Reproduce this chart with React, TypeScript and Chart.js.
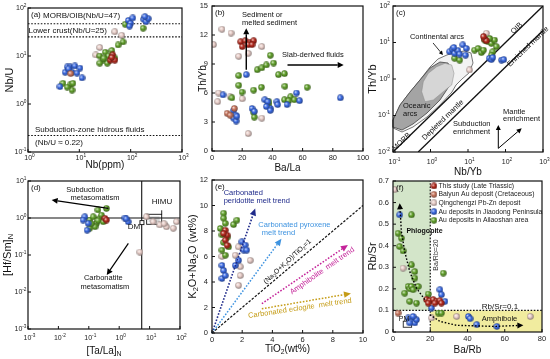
import React, { useEffect, useRef } from "react";
import { Chart, registerables } from "chart.js";
Chart.register(...registerables);

const FONT = '"Liberation Sans", Arimo, Arial, sans-serif';

// ---------- series meta ----------
const SERIES_KEYS = ["thisStudy", "baiyun", "qing", "jiao", "ailao"];
const SERIES_LABELS = [
  "This study (Late Triassic)",
  "Baiyun Au deposit (Cretaceous)",
  "Qingchengzi Pb-Zn deposit",
  "Au deposits in Jiaodong Peninsula",
  "Au deposits in Ailaoshan area",
];
const SERIES_COLORS = ["#b32a1e", "#c9765e", "#e8cdc8", "#3b6ae2", "#62a22c"];
const SERIES_ORDER = [0, 1, 4, 2, 3];

// ---------- (a) Nb vs Nb/U ----------
const aThis = [[45, 10.5], [40, 8.2], [49, 8.2], [43, 9.3]];
const aBaiyun = [[6.8, 4.3]];
const aQing = [[49, 32], [25, 15], [21, 10.5], [67, 27]];
const aJiao = [[90, 55], [100, 48], [110, 62], [180, 58], [200, 52], [220, 60], [190, 66], [95, 42], [5.8, 5.9], [6.6, 5.9], [8.2, 6.2], [10.3, 5.6], [7.2, 4.6], [5.3, 4.6], [9, 4.4], [11.3, 3.5], [4.2, 2.3], [6.2, 5.4]];
const aAilao = [[175, 38], [78, 46], [71, 19.6], [57, 17], [43, 13], [32, 12], [25, 10], [29, 8.2], [35, 7.1], [40, 9.1], [49, 9.1], [25, 7.1], [37, 10], [30, 9], [4.8, 2.7], [6.6, 2.5], [7.2, 1.95], [5.8, 2.25], [7.5, 2.7]];
const aRefLevels = [47, 25, 0.22];
const aLogTicksX = [1, 10, 100, 1000];
const aLogTicksY = [0.1, 1, 10, 100];

// ---------- (b) Ba/La vs Th/Yb ----------
const bThis = [[19, 11.3], [22, 11.4], [25, 11.2], [27.6, 11.4], [20, 10.8], [24, 11], [26.5, 11]];
const bBaiyun = [[10, 3.9], [12, 3.7], [14.8, 4.4]];
const bQing = [[1, 11], [6.6, 12.6], [12.6, 12.2], [33, 10.8], [17.7, 9.8], [24, 10.1], [4.4, 6], [20, 5.4], [12, 5.6], [33, 3.4], [24, 1.8], [3.8, 5.1]];
const bJiao = [[22.7, 7.9], [7.3, 5.8], [14.3, 4.2], [15.8, 3.7], [14.3, 3.4], [16, 3.1], [16.5, 3.6], [26.5, 4.4], [28, 4.1], [35, 5.3], [37, 5.1], [38.6, 4.4], [36, 4.6], [43, 5.1], [43.5, 4.8], [49.7, 4.8], [56, 6], [58, 5.2], [85, 5.5], [38.6, 4.2]];
const bAilao = [[17.7, 7.8], [17.7, 6.8], [19.9, 6.1], [13.2, 5.5], [27.6, 6.3], [32.7, 6.6], [27.6, 4], [28, 3.5], [30, 8.4], [33, 8.6], [36, 8.9], [38.6, 9.9], [40.8, 9.1], [44, 7.9], [48, 8], [48.3, 6.7], [48, 5.3], [52, 5.6], [54.5, 5.3], [50.8, 5.2], [63, 6.6], [37.6, 4.8], [37.7, 5.1]];
const bTicksX = [0, 20, 40, 60, 80, 100];
const bTicksY = [0, 3, 6, 9, 12, 15];

// ---------- (c) Nb/Yb vs Th/Yb ----------
const cThis = [[28, 12.2], [31, 11.2], [26, 14.5]];
const cQing = [[11, 1.77], [31, 17.9]];
const cJiao = [[3.24, 5.6], [3.8, 6.5], [4.4, 5.05], [5.4, 6], [6, 4.8], [4.2, 7.3], [7.3, 8.6], [8.6, 4.5], [9, 6.9], [37, 3.7], [42, 3.4], [46, 3.9], [78, 3.3], [90, 3.4]];
const cAilao = [[15, 6.2], [18.5, 6.9], [22.7, 5.3], [26, 6.2], [34, 10.5], [42, 9.5], [51, 11.7], [57, 7.7], [46, 5.6], [42, 4.5], [28, 11.7], [38, 12.9], [4.4, 3.7], [6, 3.3]];
const cUpperArray = [[0.1, 0.01], [1000, 100]];
const cLowerArray = [[0.47, 0.01], [1000, 21.3]];
const cContinentalArc = [[0.1, 0.075], [0.154, 0.194], [0.284, 0.44], [0.525, 0.94], [0.97, 2.13], [1.58, 3.53], [2.75, 4.55], [5.09, 5.5], [8.3, 5.85], [12, 5.15], [13.6, 2.74], [10.6, 1.46], [6.9, 1.0], [4.79, 0.685], [3.74, 0.44], [1.79, 0.194], [0.807, 0.091], [0.341, 0.0484], [0.174, 0.0353], [0.1, 0.0455]];
const cOceanicArc = [[0.1, 0.075], [0.154, 0.194], [0.284, 0.44], [0.525, 0.94], [0.97, 2.0], [1.79, 2.92], [2.93, 2.74], [3.74, 1.56], [3.31, 0.685], [1.79, 0.266], [0.807, 0.117], [0.341, 0.0585], [0.174, 0.04], [0.1, 0.0484]];
const cInnerArc = [[0.582, 0.449], [0.643, 0.843], [0.873, 1.43], [1.46, 2.17], [2.44, 2.69], [3.67, 2.42], [4.24, 1.43], [3.67, 0.685], [2.19, 0.449], [1.19, 0.266], [0.713, 0.239]];
const cLogTicksX = [0.1, 1, 10, 100, 1000];
const cLogTicksY = [0.01, 0.1, 1, 10, 100];

// ---------- (d) [Ta/La]N vs [Hf/Sm]N ----------
const dThis = [[0.34, 0.98], [0.38, 0.88]];
const dQing = [[7.9, 1.08], [13, 0.79], [21.6, 0.65], [36, 0.58], [60, 0.53], [77, 0.79], [4.8, 0.12], [30, 0.7]];
const dJiao = [[0.074, 1.08], [0.095, 0.72], [0.088, 0.47], [0.065, 0.88], [1.54, 1.0], [1.98, 0.79], [1.7, 0.95]];
const dAilao = [[0.108, 0.88], [0.14, 1.08], [0.18, 0.72], [0.23, 0.98], [0.3, 0.79], [0.16, 0.58], [0.107, 0.53], [0.2, 1.65], [0.38, 1.82], [0.26, 1.2], [0.12, 0.7], [0.2, 0.85]];
const dDividerX = 5.5;
const dDividerY = 1;
const dDM = [5.6, 0.75];
const dHIMU = [[8, 1.26], [25, 0.676]];
const dLogTicksX = [0.001, 0.01, 0.1, 1, 10, 100];
const dLogTicksY = [0.001, 0.01, 0.1, 1, 10];

// ---------- (e) TiO2 vs K2O+Na2O ----------
const eThis = [[0.88, 8.06], [1.0, 7.67], [0.88, 7.28], [1.0, 6.88], [0.77, 7.8]];
const eQing = [[1.76, 6.75], [1.54, 6.1], [1.87, 5.2], [1.87, 4.5], [1.76, 3.74], [2.53, 5.7], [0.66, 6.0]];
const eJiao = [[0.66, 5.3], [0.77, 4.9], [0.66, 4.27], [0.88, 4.5], [1.98, 7.15], [2.2, 6.9], [2.1, 6.5], [2.3, 6.5], [1.76, 5.7], [1.54, 5.3]];
const eAilao = [[0.77, 9.4], [0.77, 9.0], [0.88, 8.6], [0.55, 8.2], [0.66, 7.7], [1.0, 7.5], [0.77, 7.1], [1.1, 6.75], [0.88, 6.1], [0.66, 6.5], [1.43, 8.5], [1.65, 8.85]];
const eRatioLine = [[0, 0], [10, 10]];
const ePeridotite = [[0, 0], [2.86, 9.76]];
const ePyroxene = [[0, 0], [4.6, 7.4]];
const eAmphibolite = [[3.3, 2.3], [9.0, 6.9]];
const eEclogite = [[3.3, 1.9], [9.2, 3.1]];
const eTicksX = [0, 2, 4, 6, 8, 10];
const eTicksY = [0, 2, 4, 6, 8, 10, 12];

// ---------- (f) Ba/Rb vs Rb/Sr ----------
const fThis = [[18, 0.15], [19.8, 0.145], [21.6, 0.15], [23.4, 0.142], [25.2, 0.145], [18.9, 0.134], [22.5, 0.134], [26, 0.134]];
const fBaiyun = [[2.7, 0.088]];
const fQing = [[0.9, 0.66], [5.4, 0.296], [34.2, 0.072], [73.7, 0.072], [20.7, 0.065]];
const fJiao = [[3.6, 0.543], [8.1, 0.065], [9.9, 0.049], [11.7, 0.042], [9, 0.042], [12.6, 0.057], [10.8, 0.072], [20.7, 0.111], [25.2, 0.196], [26, 0.173], [27.9, 0.142], [40.5, 0.072], [41.4, 0.062], [45, 0.034], [55.8, 0.026]];
const fAilao = [[2.7, 0.458], [4.5, 0.435], [3.6, 0.396], [5.4, 0.376], [9.9, 0.543], [9.9, 0.311], [11.7, 0.28], [11.7, 0.25], [6.3, 0.18], [8.1, 0.211], [9, 0.2], [9.9, 0.211], [10.8, 0.196], [13.5, 0.211], [9, 0.142], [12.6, 0.134], [18.9, 0.176], [27, 0.273], [24.3, 0.088], [26, 0.088]];
const fBaRb = 20;
const fRbSr = 0.1;
const fPhlogCurve = [[17.1, 0.15], [12.6, 0.203], [9, 0.28], [6.3, 0.373], [4.5, 0.466], [3.6, 0.597]];
const fAmphCurve = [[19.8, 0.08], [25.2, 0.049], [34.2, 0.031], [54, 0.026], [70, 0.031]];
const fPMBox = [[5.5, 0.05], [10, 0.022]];
const fLegendRows = [0.677, 0.638, 0.599, 0.558, 0.518];
const fTicksX = [0, 20, 40, 60, 80];
const fTicksY = [0, 0.1, 0.2, 0.3, 0.4, 0.5, 0.6, 0.7];

// ---------- drawing helpers ----------
type Seg = { t: string; s?: "sub" | "sup" };
type TOpt = { size?: number; color?: string; align?: "left" | "center" | "right"; rot?: number; bold?: boolean };

function rich(ctx: CanvasRenderingContext2D, segs: Seg[] | string, x: number, y: number, o: TOpt = {}) {
  const arr: Seg[] = typeof segs === "string" ? [{ t: segs }] : segs;
  const size = o.size ?? 8;
  const small = size * 0.68;
  ctx.save();
  ctx.translate(x, y);
  if (o.rot) ctx.rotate((o.rot * Math.PI) / 180);
  ctx.fillStyle = o.color ?? "#111";
  ctx.textBaseline = "middle";
  ctx.textAlign = "left";
  const fnt = (s: Seg) => `${o.bold ? "bold " : ""}${s.s ? small : size}px ${FONT}`;
  const w = arr.map((s) => {
    ctx.font = fnt(s);
    return ctx.measureText(s.t).width;
  });
  const total = w.reduce((a, b) => a + b, 0);
  let cx = o.align === "center" ? -total / 2 : o.align === "right" ? -total : 0;
  arr.forEach((s, i) => {
    ctx.font = fnt(s);
    const dy = s.s === "sub" ? size * 0.3 : s.s === "sup" ? -size * 0.4 : 0;
    ctx.fillText(s.t, cx, dy);
    cx += w[i];
  });
  ctx.restore();
}

type H = { ctx: CanvasRenderingContext2D; area: any; X: (v: number) => number; Y: (v: number) => number };

function T(h: H, s: Seg[] | string, x: number, y: number, o: TOpt = {}) {
  rich(h.ctx, s, h.X(x), h.Y(y), o);
}

function arrowPx(ctx: CanvasRenderingContext2D, pts: number[][], o: { color?: string; width?: number; dash?: number[]; head?: number; hw?: number } = {}) {
  const color = o.color ?? "#000";
  const head = o.head ?? 6;
  const hw = o.hw ?? 3;
  const n = pts.length;
  const [x1, y1] = pts[n - 2];
  const [x2, y2] = pts[n - 1];
  const ang = Math.atan2(y2 - y1, x2 - x1);
  const bx = x2 - head * Math.cos(ang);
  const by = y2 - head * Math.sin(ang);
  ctx.save();
  ctx.strokeStyle = color;
  ctx.fillStyle = color;
  ctx.lineWidth = o.width ?? 1;
  ctx.setLineDash(o.dash ?? []);
  ctx.beginPath();
  ctx.moveTo(pts[0][0], pts[0][1]);
  for (let i = 1; i < n - 1; i++) ctx.lineTo(pts[i][0], pts[i][1]);
  ctx.lineTo(bx, by);
  ctx.stroke();
  ctx.setLineDash([]);
  ctx.beginPath();
  ctx.moveTo(x2, y2);
  ctx.lineTo(bx + hw * Math.sin(ang), by - hw * Math.cos(ang));
  ctx.lineTo(bx - hw * Math.sin(ang), by + hw * Math.cos(ang));
  ctx.closePath();
  ctx.fill();
  ctx.restore();
}

function arrowData(h: H, pts: number[][], o: any = {}) {
  arrowPx(h.ctx, pts.map(([x, y]) => [h.X(x), h.Y(y)]), o);
}

function poly(h: H, pts: number[][], fill: string, stroke: string | null, lw = 0.8) {
  const ctx = h.ctx;
  ctx.save();
  ctx.beginPath();
  pts.forEach(([x, y], i) => (i ? ctx.lineTo(h.X(x), h.Y(y)) : ctx.moveTo(h.X(x), h.Y(y))));
  ctx.closePath();
  ctx.fillStyle = fill;
  ctx.fill();
  if (stroke) {
    ctx.strokeStyle = stroke;
    ctx.lineWidth = lw;
    ctx.stroke();
  }
  ctx.restore();
}

function mix(hex: string, t: number[], k: number) {
  const n = parseInt(hex.slice(1), 16);
  const r = (n >> 16) & 255, g = (n >> 8) & 255, b = n & 255;
  return `rgb(${Math.round(r + (t[0] - r) * k)},${Math.round(g + (t[1] - g) * k)},${Math.round(b + (t[2] - b) * k)})`;
}

let SPRITES: HTMLCanvasElement[] | null = null;
function getSprites() {
  if (SPRITES) return SPRITES;
  SPRITES = SERIES_COLORS.map((c) => {
    const d = 7;
    const cv = document.createElement("canvas");
    cv.width = d;
    cv.height = d;
    const g = cv.getContext("2d")!;
    const r = d / 2;
    const grad = g.createRadialGradient(r - 1.1, r - 1.1, 0.2, r, r, r);
    grad.addColorStop(0, mix(c, [255, 255, 255], 0.75));
    grad.addColorStop(0.45, c);
    grad.addColorStop(1, mix(c, [0, 0, 0], 0.45));
    g.fillStyle = grad;
    g.beginPath();
    g.arc(r, r, r - 0.3, 0, Math.PI * 2);
    g.fill();
    return cv;
  });
  return SPRITES;
}

// ---------- panel definition ----------
type Panel = {
  id: string;
  pad: { left: number; top: number; right: number; bottom: number };
  xLog: boolean;
  yLog: boolean;
  xr: number[];
  yr: number[];
  xTicks: number[];
  yTicks: number[];
  series: { key: string; pts: number[][] }[];
  lines: { pts: number[][]; dash?: number[]; width?: number; color?: string }[];
  letter: string;
  xTitle: Seg[] | string;
  yTitle: Seg[] | string;
  xTitleY: number;
  yTitleX: number;
  yTitleSize?: number;
  xLabDy: number;
  yLabDx: number;
  yFmt?: (v: number) => string;
  bg?: (h: H) => void;
  fg?: (h: H) => void;
};

const DOT = [1.6, 1.6];

function drawAxes(h: H, p: Panel) {
  const { ctx, area, X, Y } = h;
  ctx.save();
  ctx.strokeStyle = "#111";
  ctx.lineWidth = 1.2;
  ctx.setLineDash([]);
  ctx.strokeRect(area.left, area.top, area.right - area.left, area.bottom - area.top);
  ctx.lineWidth = 1;
  ctx.beginPath();
  p.xTicks.forEach((v) => {
    const x = X(v);
    ctx.moveTo(x, area.bottom);
    ctx.lineTo(x, area.bottom - 3);
  });
  p.yTicks.forEach((v) => {
    const y = Y(v);
    ctx.moveTo(area.left, y);
    ctx.lineTo(area.left + 3, y);
  });
  ctx.stroke();
  const logSeg = (v: number): Seg[] => [{ t: "10" }, { t: String(Math.round(Math.log10(v))), s: "sup" }];
  p.xTicks.forEach((v) => {
    if (p.xLog) rich(ctx, logSeg(v), X(v) + 1.5, area.bottom + p.xLabDy, { size: 7, align: "center", color: "#222" });
    else rich(ctx, String(v), X(v), area.bottom + p.xLabDy, { size: 7.5, align: "center", color: "#222" });
  });
  p.yTicks.forEach((v) => {
    if (p.yLog) rich(ctx, logSeg(v), area.left - p.yLabDx, Y(v), { size: 7, align: "right", color: "#222" });
    else rich(ctx, p.yFmt ? p.yFmt(v) : String(v), area.left - p.yLabDx, Y(v), { size: 7.5, align: "right", color: "#222" });
  });
  rich(ctx, p.xTitle, (area.left + area.right) / 2, p.xTitleY, { size: 10, align: "center", color: "#111" });
  rich(ctx, p.yTitle, p.yTitleX, (area.top + area.bottom) / 2, { size: p.yTitleSize ?? 11, align: "center", color: "#111", rot: -90 });
  rich(ctx, p.letter, area.left + 3, area.top + 7, { size: 8, color: "#111" });
  ctx.restore();
}

function decoPlugin(p: Panel) {
  const mk = (chart: any): H => {
    const xs = chart.scales.x, ys = chart.scales.y;
    return { ctx: chart.ctx, area: chart.chartArea, X: (v: number) => xs.getPixelForValue(v), Y: (v: number) => ys.getPixelForValue(v) };
  };
  return {
    id: "deco_" + p.id,
    beforeDatasetsDraw(chart: any) {
      const h = mk(chart);
      h.ctx.save();
      if (p.bg) p.bg(h);
      h.ctx.restore();
    },
    afterDatasetsDraw(chart: any) {
      const h = mk(chart);
      h.ctx.save();
      if (p.fg) p.fg(h);
      h.ctx.restore();
      drawAxes(h, p);
    },
  };
}

function buildConfig(p: Panel): any {
  const sprites = getSprites();
  const datasets: any[] = [];
  p.series.forEach((s) => {
    const idx = SERIES_KEYS.indexOf(s.key);
    datasets.push({
      label: SERIES_LABELS[idx],
      data: s.pts.map(([x, y]) => ({ x, y })),
      pointStyle: sprites[idx],
      pointRadius: 3,
      showLine: false,
      order: SERIES_ORDER[idx],
    });
  });
  p.lines.forEach((l) => {
    datasets.push({
      data: l.pts.map(([x, y]) => ({ x, y })),
      showLine: true,
      pointRadius: 0,
      borderColor: l.color ?? "#111",
      borderWidth: l.width ?? 1,
      borderDash: l.dash ?? [],
      fill: false,
      order: 10,
    });
  });
  return {
    type: "scatter",
    data: { datasets },
    options: {
      responsive: false,
      animation: false,
      events: [],
      layout: { padding: p.pad },
      plugins: { legend: { display: false }, tooltip: { enabled: false }, title: { display: false } },
      scales: {
        x: { type: p.xLog ? "logarithmic" : "linear", min: p.xr[0], max: p.xr[1], display: false },
        y: { type: p.yLog ? "logarithmic" : "linear", min: p.yr[0], max: p.yr[1], display: false },
      },
    },
    plugins: [decoPlugin(p)],
  };
}

const S = (key: string, pts: number[][]) => ({ key, pts });

const PANELS: Panel[] = [
  {
    id: "a",
    pad: { left: 28, top: 8, right: 368, bottom: 207 },
    xLog: true, yLog: true, xr: [1, 1000], yr: [0.1, 100],
    xTicks: aLogTicksX, yTicks: aLogTicksY,
    series: [S("qing", aQing), S("ailao", aAilao), S("jiao", aJiao), S("baiyun", aBaiyun), S("thisStudy", aThis)],
    lines: aRefLevels.map((v) => ({ pts: [[1, v], [1000, v]], dash: DOT, width: 1.1 })),
    letter: "(a)", xTitle: "Nb(ppm)", yTitle: "Nb/U", xTitleY: 165, yTitleX: 10, xLabDy: 6.5, yLabDx: 1.5,
    fg: (h) => {
      T(h, "MORB/OIB(Nb/U=47)", 1.96, 68, { size: 8 });
      T(h, "Lower crust(Nb/U=25)", 1.02, 33, { size: 8 });
      T(h, "Subduction-zone hidrous fluids", 1.37, 0.297, { size: 8 });
      T(h, "(Nb/U \u2248 0.22)", 1.37, 0.156, { size: 8 });
    },
  },
  {
    id: "b",
    pad: { left: 212, top: 6, right: 187, bottom: 208 },
    xLog: false, yLog: false, xr: [0, 100], yr: [0, 15],
    xTicks: bTicksX, yTicks: bTicksY,
    series: [S("qing", bQing), S("ailao", bAilao), S("jiao", bJiao), S("baiyun", bBaiyun), S("thisStudy", bThis)],
    lines: [],
    letter: "(b)", xTitle: "Ba/La", yTitle: "Th/Yb", xTitleY: 168, yTitleX: 203, yTitleSize: 10, xLabDy: 7, yLabDx: 4,
    fg: (h) => {
      arrowData(h, [[22.7, 8.4], [22.7, 12.7]], { width: 1.4, head: 6, hw: 3 });
      arrowData(h, [[50, 8.9], [87.2, 8.9]], { width: 1.4, head: 6, hw: 3 });
      T(h, "Sediment or", 19.9, 14.06, { size: 7.5 });
      T(h, "melted sediment", 19.9, 13.2, { size: 7.5 });
      T(h, "Slab-derived fluids", 46.4, 9.93, { size: 7.5 });
    },
  },
  {
    id: "c",
    pad: { left: 393, top: 6, right: 7, bottom: 207 },
    xLog: true, yLog: true, xr: [0.1, 1000], yr: [0.01, 100],
    xTicks: cLogTicksX, yTicks: cLogTicksY,
    series: [S("qing", cQing), S("ailao", cAilao), S("jiao", cJiao), S("thisStudy", cThis)],
    lines: [{ pts: cUpperArray, width: 1.3 }, { pts: cLowerArray, width: 1.3 }],
    letter: "(c)", xTitle: "Nb/Yb", yTitle: "Th/Yb", xTitleY: 172, yTitleX: 373, xLabDy: 10, yLabDx: 3,
    bg: (h) => {
      poly(h, cContinentalArc, "#f3f3f3", "#555", 0.8);
      poly(h, cOceanicArc, "#a4a4a4", "#444", 0.8);
      poly(h, cInnerArc, "#d6d6d6", "#8a8a8a", 0.5);
    },
    fg: (h) => {
      T(h, "Continental arcs", 1.49, 14.2, { size: 7.5, align: "center" });
      arrowData(h, [[1.17, 9.7], [2.15, 4.55]], { width: 0.8, head: 4, hw: 2 });
      T(h, "Oceanic", 0.185, 0.182, { size: 7.5 });
      T(h, "arcs", 0.185, 0.108, { size: 7.5 });
      T(h, "MORB", 0.17, 0.019, { size: 7.5, align: "center", rot: -44 });
      T(h, "Depleted mantle", 2.15, 0.075, { size: 7.5, align: "center", rot: -44 });
      T(h, "Enriched mantle", 398, 7.67, { size: 7.5, align: "center", rot: -44 });
      T(h, "OIB", 199, 24.5, { size: 7.5, align: "center", rot: -44 });
      T(h, "Subduction", 3.98, 0.0574, { size: 7.5 });
      T(h, "enrichment", 3.98, 0.0347, { size: 7.5 });
      T(h, "Mantle", 85.8, 0.127, { size: 7.5 });
      T(h, "enrichment", 85.8, 0.08, { size: 7.5 });
      arrowData(h, [[64.3, 0.0126], [64.3, 0.055]], { width: 1, head: 5, hw: 2.5 });
      arrowData(h, [[64.3, 0.0126], [270, 0.0446]], { width: 1, head: 5, hw: 2.5 });
    },
  },
  {
    id: "d",
    pad: { left: 28, top: 181, right: 370, bottom: 30 },
    xLog: true, yLog: true, xr: [0.001, 100], yr: [0.001, 10],
    xTicks: dLogTicksX, yTicks: dLogTicksY,
    series: [S("qing", dQing), S("ailao", dAilao), S("jiao", dJiao), S("thisStudy", dThis)],
    lines: [{ pts: [[dDividerX, 0.001], [dDividerX, 10]], width: 1.1 }, { pts: [[0.001, dDividerY], [100, dDividerY]], width: 1.1 }],
    letter: "(d)", xTitle: [{ t: "[Ta/La]" }, { t: "N", s: "sub" }], yTitle: [{ t: "[Hf/Sm]" }, { t: "N", s: "sub" }],
    xTitleY: 351, yTitleX: 8, xLabDy: 9, yLabDx: 1.5,
    bg: (h) => {
      const ctx = h.ctx;
      const x1 = h.X(dHIMU[0][0]), y1 = h.Y(dHIMU[0][1]), x2 = h.X(dHIMU[1][0]), y2 = h.Y(dHIMU[1][1]);
      ctx.fillStyle = "#d4d4d4";
      ctx.fillRect(x1 + 2, y1 + 2, x2 - x1 - 4, y2 - y1 - 4);
      ctx.strokeStyle = "#111";
      ctx.lineWidth = 0.9;
      ctx.strokeRect(x1, y1, x2 - x1, y2 - y1);
      ctx.beginPath();
      ctx.moveTo(x2, y1);
      ctx.lineTo(x2, y1 - 4);
      ctx.stroke();
    },
    fg: (h) => {
      const ctx = h.ctx;
      const x = h.X(dDM[0]), y = h.Y(dDM[1]);
      ctx.fillStyle = "#fff";
      ctx.fillRect(x - 2, y - 2, 4, 4);
      ctx.strokeStyle = "#111";
      ctx.lineWidth = 0.9;
      ctx.strokeRect(x - 2, y - 2, 4, 4);
      T(h, "DM", 4.9, 0.58, { size: 8, align: "right" });
      T(h, "HIMU", 25.6, 2.7, { size: 8, align: "center" });
      arrowData(h, [[0.44, 1.83], [0.006, 3.06]], { width: 1.2, head: 6, hw: 3 });
      T(h, "Subduction", 0.075, 5.7, { size: 7.5, align: "center" });
      T(h, "metasomatism", 0.16, 3.4, { size: 7.5, align: "center" });
      arrowData(h, [[2.0, 0.207], [0.39, 0.029]], { width: 1.2, head: 6, hw: 3 });
      T(h, "Carbonatite", 0.3, 0.0234, { size: 7.5, align: "center" });
      T(h, "metasomatism", 0.34, 0.0139, { size: 7.5, align: "center" });
    },
  },
  {
    id: "e",
    pad: { left: 212, top: 180, right: 187, bottom: 26 },
    xLog: false, yLog: false, xr: [0, 10], yr: [0, 12],
    xTicks: eTicksX, yTicks: eTicksY,
    series: [S("qing", eQing), S("ailao", eAilao), S("jiao", eJiao), S("thisStudy", eThis)],
    lines: [{ pts: eRatioLine, dash: [2.5, 1.5], width: 1.2 }],
    letter: "(e)",
    xTitle: [{ t: "TiO" }, { t: "2", s: "sub" }, { t: "(wt%)" }],
    yTitle: [{ t: "K" }, { t: "2", s: "sub" }, { t: "O+Na" }, { t: "2", s: "sub" }, { t: "O (wt%)" }],
    xTitleY: 349, yTitleX: 193, xLabDy: 7, yLabDx: 4,
    fg: (h) => {
      arrowData(h, ePeridotite, { color: "#1f2a8a", width: 1.6, dash: [1.6, 1.6], head: 7, hw: 3.2 });
      arrowData(h, ePyroxene, { color: "#3e93e0", width: 1.5, dash: [1.6, 1.6], head: 7, hw: 3.2 });
      arrowData(h, eAmphibolite, { color: "#c42399", width: 1.5, dash: [1.6, 1.6], head: 7, hw: 3.2 });
      arrowData(h, eEclogite, { color: "#c59c16", width: 1.5, dash: [1.6, 1.6], head: 7, hw: 3.2 });
      T(h, "Carbonated", 0.77, 10.96, { size: 7.5, color: "#1f2a8a" });
      T(h, "peridotite melt trend", 0.77, 10.35, { size: 7.5, color: "#1f2a8a" });
      T(h, "Carbonated pyroxene", 3.07, 8.47, { size: 7.5, color: "#3e93e0" });
      T(h, "melt trend", 3.3, 7.86, { size: 7.5, color: "#3e93e0" });
      T(h, [{ t: "(Na" }, { t: "2", s: "sub" }, { t: "O+K" }, { t: "2", s: "sub" }, { t: "O)/TiO" }, { t: "2", s: "sub" }, { t: "=1" }], 5.0, 5.6, { size: 7, align: "center", rot: -43 });
      T(h, "Amphibolite  melt trend", 7.3, 4.87, { size: 7.5, align: "center", rot: -35, color: "#c42399" });
      T(h, "Carbonated eclogite  melt trend", 5.82, 1.94, { size: 7.5, align: "center", rot: -8.5, color: "#c59c16" });
    },
  },
  {
    id: "f",
    pad: { left: 393, top: 181, right: 8, bottom: 27 },
    xLog: false, yLog: false, xr: [0, 80], yr: [0, 0.7],
    xTicks: fTicksX, yTicks: fTicksY,
    series: [S("qing", fQing), S("ailao", fAilao), S("jiao", fJiao), S("baiyun", fBaiyun), S("thisStudy", fThis)],
    lines: [{ pts: [[fBaRb, 0], [fBaRb, 0.7]], dash: DOT, width: 1.2 }, { pts: [[0, fRbSr], [80, fRbSr]], dash: DOT, width: 1.2 }],
    letter: "(f)", xTitle: "Ba/Rb", yTitle: "Rb/Sr", xTitleY: 350, yTitleX: 373, xLabDy: 7, yLabDx: 4,
    yFmt: (v) => (v === 0 ? "0" : v.toFixed(1)),
    bg: (h) => {
      const ctx = h.ctx;
      ctx.fillStyle = "#d3e5c9";
      ctx.fillRect(h.X(0), h.Y(0.7), h.X(fBaRb) - h.X(0), h.Y(fRbSr) - h.Y(0.7));
      ctx.fillStyle = "#f1ec9f";
      ctx.fillRect(h.X(fBaRb), h.Y(fRbSr), h.X(80) - h.X(fBaRb), h.Y(0) - h.Y(fRbSr));
      const bx1 = h.X(fPMBox[0][0]), by1 = h.Y(fPMBox[0][1]), bx2 = h.X(fPMBox[1][0]), by2 = h.Y(fPMBox[1][1]);
      ctx.fillStyle = "#fff";
      ctx.fillRect(bx1, by1, bx2 - bx1, by2 - by1);
      ctx.strokeStyle = "#222";
      ctx.lineWidth = 0.9;
      ctx.strokeRect(bx1, by1, bx2 - bx1, by2 - by1);
    },
    fg: (h) => {
      arrowData(h, fPhlogCurve, { width: 1.4, dash: [1.6, 1.8], head: 6, hw: 3 });
      arrowData(h, fAmphCurve, { width: 1.4, dash: [1.6, 1.8], head: 6, hw: 3 });
      T(h, "Phlogopite", 7.2, 0.466, { size: 7, bold: true });
      T(h, "Amphibole", 47.7, 0.062, { size: 7.5 });
      T(h, "Rb/Sr=0.1", 47.7, 0.118, { size: 8 });
      T(h, "Ba/Rb=20", 23.2, 0.357, { size: 7, align: "center", rot: -90, color: "#333" });
      T(h, "PM", 3.1, 0.06, { size: 7 });
      const sprites = getSprites();
      fLegendRows.forEach((yv, i) => {
        const x = h.X(22), y = h.Y(yv);
        h.ctx.drawImage(sprites[i], x - 3.5, y - 3.5);
        T(h, SERIES_LABELS[i], 24.4, yv, { size: 6.8, color: "#222" });
      });
    },
  },
];

function PanelCanvas({ panel }: { panel: Panel }) {
  const ref = useRef<HTMLCanvasElement>(null);
  useEffect(() => {
    const chart = new Chart(ref.current as HTMLCanvasElement, buildConfig(panel));
    return () => chart.destroy();
  }, [panel]);
  return (
    <canvas
      ref={ref}
      width={550}
      height={359}
      style={{ position: "absolute", left: 0, top: 0, width: 550, height: 359, pointerEvents: "none" }}
    />
  );
}

export default function App() {
  return (
    <div style={{ position: "absolute", left: 0, top: 0, width: 550, height: 359, background: "#fff", overflow: "hidden" }}>
      {PANELS.map((p) => (
        <PanelCanvas key={p.id} panel={p} />
      ))}
    </div>
  );
}
